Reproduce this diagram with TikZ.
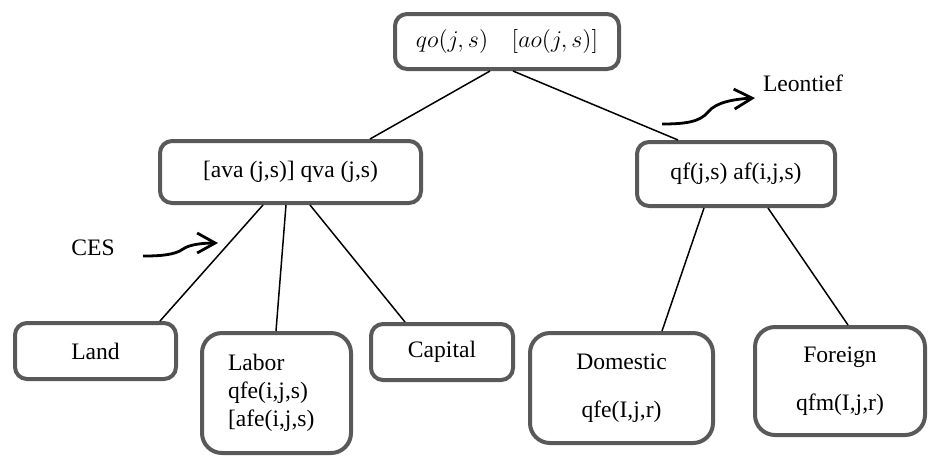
\documentclass[tikz,border=0pt]{standalone}
\usepackage{fontspec}
\setmainfont{Liberation Serif}
\usepackage{tikz}
\usetikzlibrary{arrows.meta}
\definecolor{boxgray}{RGB}{89, 89, 89}

\begin{document}
\begin{tikzpicture}[
        x=0.5pt, y=-0.5pt,
        font=\fontsize{11.8}{14}\selectfont,
        box/.style={draw=boxgray, line width=2pt, rounded corners=6pt, fill=white, align=center, inner sep=0pt},
        bigbox/.style={box, rounded corners=10pt},
        link/.style={line width=0.75pt},
        curly/.style={line width=1.4pt, -{Straight Barb[length=9pt,width=10pt]}}
    ]
        \useasboundingbox (0,0) rectangle (931,457);

        % Nodes
        \node[box, minimum width=112pt, minimum height=27.5pt] (top) at (507,41.5) {$qo(j,s)$\quad$[ao(j,s)]$};

        \node[box, minimum width=130.5pt, minimum height=31pt] (ava) at (290.5,172) {[ava (j,s)] qva (j,s)};
        \node[box, minimum width=99pt, minimum height=32pt] (qf) at (736,174) {qf(j,s) af(i,j,s)};

        \node[box, minimum width=80.5pt, minimum height=28pt] (land) at (95.5,351) {Land};
        \node[bigbox, minimum width=74.5pt, minimum height=60pt, text width=48.5pt, align=left] (labor) at (276.5,393) {Labor\\qfe(i,j,s)\\{[afe(i,j,s)}};
        \node[box, minimum width=71pt, minimum height=28pt] (capital) at (442,352) {Capital};
        \node[bigbox, minimum width=91.5pt, minimum height=55pt] (domestic) at (621.5,388) {Domestic\\[10pt]qfe(I,j,r)};
        \node[bigbox, minimum width=85pt, minimum height=54pt] (foreign) at (840,381) {Foreign\\[10pt]qfm(I,j,r)};

        % Tree links
        \draw[link] ([xshift=-8.5pt]top.south) -- ([xshift=39.75pt]ava.north);
        \draw[link] ([xshift=3pt]top.south) -- ([xshift=-29pt]qf.north);
        \draw[link] ([xshift=-13.75pt]ava.south) -- ([xshift=32.25pt]land.north);
        \draw[link] ([xshift=-2.25pt]ava.south) -- ([xshift=-0.25pt]labor.north);
        \draw[link] ([xshift=9.75pt]ava.south) -- ([xshift=-18.5pt]capital.north);
        \draw[link] ([xshift=-16pt]qf.south) -- ([xshift=20.25pt]domestic.north);
        \draw[link] ([xshift=16pt]qf.south) -- ([xshift=4pt]foreign.north);

        % Function labels
        \node (leontief) at (803,83) {Leontief};
        \node (ces) at (93,248) {CES};
        \coordinate (lstart) at (662,124);
        \coordinate (ltip) at (755,98);
        \coordinate (cstart) at (143,256);
        \coordinate (ctip) at (218,243);
        \draw[curly] (lstart) .. controls (685,124) and (700,122) .. (708,112) .. controls (716,102) and (735,99) .. (ltip);
        \draw[curly] (cstart) .. controls (160,256) and (175,255) .. (183,249) .. controls (190,244) and (205,243) .. (ctip);

\end{tikzpicture}
\end{document}
